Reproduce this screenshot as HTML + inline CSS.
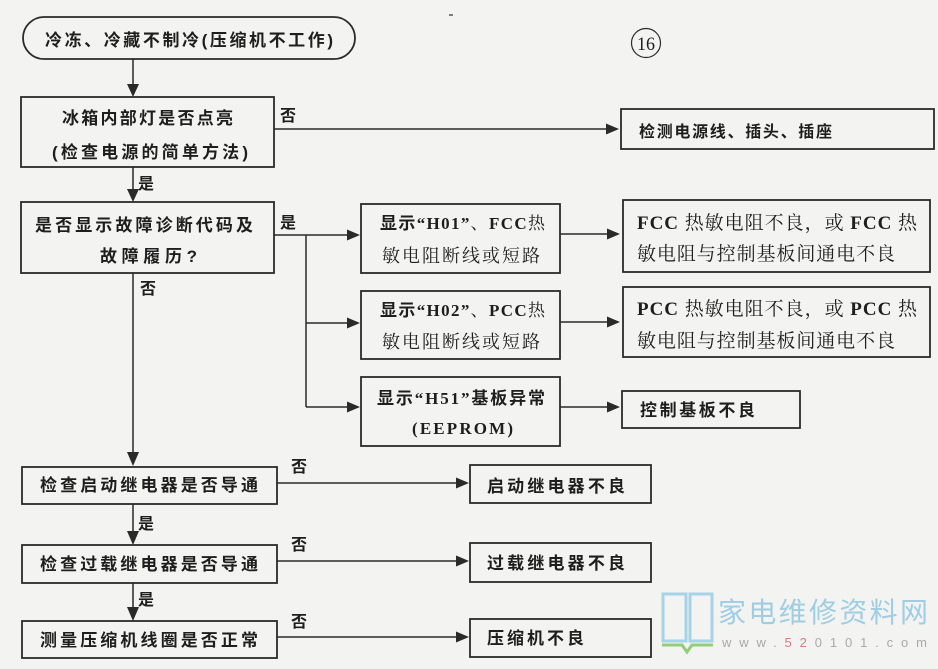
<!DOCTYPE html>
<html><head><meta charset="utf-8"><style>
html,body{margin:0;padding:0;background:#f3f3f1;}
svg{display:block;}
.s{font-family:"Liberation Sans","Noto Sans CJK SC",sans-serif;font-weight:bold;fill:#1e1e1e;}
.r{font-family:"Liberation Serif","Noto Serif CJK SC",serif;fill:#1e1e1e;}
.rb{font-family:"Liberation Serif","Noto Serif CJK SC",serif;font-weight:bold;fill:#1e1e1e;}
.box{fill:none;stroke:#2a2a2a;stroke-width:1.8;}
.ln{stroke:#2a2a2a;stroke-width:1.5;fill:none;}
.ah{fill:#2a2a2a;}
</style></head><body>
<svg width="938" height="669" viewBox="0 0 938 669" xmlns="http://www.w3.org/2000/svg">
<rect width="938" height="669" fill="#f3f3f1"/>
<line x1="449" y1="15" x2="453" y2="15" stroke="#555" stroke-width="1.5"/>
<!-- circled 16 -->
<circle cx="646" cy="43" r="14.5" fill="none" stroke="#2a2a2a" stroke-width="1.2"/>
<text x="646" y="50" text-anchor="middle" class="r" font-size="19" textLength="18" lengthAdjust="spacingAndGlyphs">16</text>

<!-- start pill -->
<rect x="23" y="17" width="332" height="42" rx="21" ry="21" class="box"/>
<text x="45" y="46" class="s" font-size="17" textLength="288" lengthAdjust="spacing">冷冻、冷藏不制冷(压缩机不工作)</text>
<line x1="133" y1="59" x2="133" y2="85" class="ln"/>
<polygon points="127,84 139,84 133,97" class="ah"/>

<!-- box1 -->
<rect x="21" y="97" width="253" height="70" class="box"/>
<text x="62" y="124" class="s" font-size="17" textLength="171" lengthAdjust="spacing">冰箱内部灯是否点亮</text>
<text x="52" y="158" class="s" font-size="17" textLength="196" lengthAdjust="spacing">(检查电源的简单方法)</text>
<text x="280" y="121" class="s" font-size="16">否</text>
<line x1="274" y1="129" x2="608" y2="129" class="ln"/>
<polygon points="606,123.5 606,134.5 619,129" class="ah"/>
<rect x="621" y="109" width="313" height="40" class="box"/>
<text x="639" y="137" class="s" font-size="16" textLength="193" lengthAdjust="spacing">检测电源线、插头、插座</text>

<!-- yes arrow box1->box2 -->
<line x1="133" y1="167" x2="133" y2="190" class="ln"/>
<polygon points="127,189 139,189 133,202" class="ah"/>
<text x="138" y="189" class="s" font-size="16">是</text>

<!-- box2 -->
<rect x="21" y="202" width="253" height="71" class="box"/>
<text x="35" y="231" class="s" font-size="17" textLength="218" lengthAdjust="spacing">是否显示故障诊断代码及</text>
<text x="100" y="262" class="s" font-size="17" textLength="97" lengthAdjust="spacing">故障履历?</text>
<text x="280" y="228" class="s" font-size="16">是</text>

<line x1="274" y1="235" x2="348" y2="235" class="ln"/>
<polygon points="347,229.5 347,240.5 360,235" class="ah"/>
<line x1="306" y1="235" x2="306" y2="407" class="ln"/>
<line x1="306" y1="323" x2="348" y2="323" class="ln"/>
<polygon points="347,317.5 347,328.5 360,323" class="ah"/>
<line x1="306" y1="407" x2="348" y2="407" class="ln"/>
<polygon points="347,401.5 347,412.5 360,407" class="ah"/>

<!-- H01 -->
<rect x="361" y="204" width="199" height="69" class="box"/>
<text x="380" y="229" font-size="17" textLength="165" lengthAdjust="spacing"><tspan class="s">显示</tspan><tspan class="rb">“H01”</tspan><tspan class="r">、</tspan><tspan class="rb">FCC</tspan><tspan class="r">热</tspan></text>
<text x="382" y="262" class="r" font-size="18" textLength="158" lengthAdjust="spacing">敏电阻断线或短路</text>
<line x1="560" y1="234" x2="608" y2="234" class="ln"/>
<polygon points="607,228.5 607,239.5 620,234" class="ah"/>
<rect x="623" y="200" width="307" height="72" class="box"/>
<text x="637" y="229" font-size="19" textLength="280" lengthAdjust="spacing"><tspan class="rb">FCC </tspan><tspan class="r">热敏电阻不良，或 </tspan><tspan class="rb">FCC </tspan><tspan class="r">热</tspan></text>
<text x="637" y="260" class="r" font-size="19" textLength="258" lengthAdjust="spacing">敏电阻与控制基板间通电不良</text>

<!-- H02 -->
<rect x="361" y="291" width="199" height="68" class="box"/>
<text x="380" y="316" font-size="17" textLength="165" lengthAdjust="spacing"><tspan class="s">显示</tspan><tspan class="rb">“H02”</tspan><tspan class="r">、</tspan><tspan class="rb">PCC</tspan><tspan class="r">热</tspan></text>
<text x="382" y="348" class="r" font-size="18" textLength="158" lengthAdjust="spacing">敏电阻断线或短路</text>
<line x1="560" y1="322" x2="608" y2="322" class="ln"/>
<polygon points="607,316.5 607,327.5 620,322" class="ah"/>
<rect x="623" y="287" width="307" height="70" class="box"/>
<text x="637" y="315" font-size="19" textLength="280" lengthAdjust="spacing"><tspan class="rb">PCC </tspan><tspan class="r">热敏电阻不良，或 </tspan><tspan class="rb">PCC </tspan><tspan class="r">热</tspan></text>
<text x="637" y="347" class="r" font-size="19" textLength="258" lengthAdjust="spacing">敏电阻与控制基板间通电不良</text>

<!-- H51 -->
<rect x="361" y="377" width="199" height="69" class="box"/>
<text x="377" y="404" font-size="17" textLength="168" lengthAdjust="spacing"><tspan class="s">显示</tspan><tspan class="rb" font-size="17">“H51”</tspan><tspan class="s">基板异常</tspan></text>
<text x="412" y="434" class="rb" font-size="17" textLength="101" lengthAdjust="spacing">(EEPROM)</text>
<line x1="560" y1="407" x2="608" y2="407" class="ln"/>
<polygon points="607,401.5 607,412.5 620,407" class="ah"/>
<rect x="622" y="391" width="178" height="37" class="box"/>
<text x="640" y="416" class="s" font-size="17" textLength="115" lengthAdjust="spacing">控制基板不良</text>

<!-- main no path -->
<text x="140" y="294" class="s" font-size="16">否</text>
<line x1="133" y1="273" x2="133" y2="453" class="ln"/>
<polygon points="127,452 139,452 133,466" class="ah"/>

<!-- box3 -->
<rect x="22" y="467" width="255" height="37" class="box"/>
<text x="40" y="491" class="s" font-size="17" textLength="218" lengthAdjust="spacing">检查启动继电器是否导通</text>
<text x="291" y="472" class="s" font-size="16">否</text>
<line x1="277" y1="483" x2="457" y2="483" class="ln"/>
<polygon points="456,477.5 456,488.5 469,483" class="ah"/>
<rect x="470" y="465" width="181" height="38" class="box"/>
<text x="487" y="492" class="s" font-size="17" textLength="138" lengthAdjust="spacing">启动继电器不良</text>

<line x1="133" y1="504" x2="133" y2="532" class="ln"/>
<polygon points="127,531 139,531 133,545" class="ah"/>
<text x="138" y="529" class="s" font-size="16">是</text>

<!-- box4 -->
<rect x="22" y="545" width="255" height="38" class="box"/>
<text x="40" y="570" class="s" font-size="17" textLength="218" lengthAdjust="spacing">检查过载继电器是否导通</text>
<text x="291" y="550" class="s" font-size="16">否</text>
<line x1="277" y1="561" x2="457" y2="561" class="ln"/>
<polygon points="456,555.5 456,566.5 469,561" class="ah"/>
<rect x="470" y="543" width="181" height="39" class="box"/>
<text x="487" y="569" class="s" font-size="17" textLength="138" lengthAdjust="spacing">过载继电器不良</text>

<line x1="133" y1="583" x2="133" y2="608" class="ln"/>
<polygon points="127,607 139,607 133,621" class="ah"/>
<text x="138" y="605" class="s" font-size="16">是</text>

<!-- box5 -->
<rect x="22" y="621" width="255" height="37" class="box"/>
<text x="40" y="646" class="s" font-size="17" textLength="218" lengthAdjust="spacing">测量压缩机线圈是否正常</text>
<text x="291" y="627" class="s" font-size="16">否</text>
<line x1="277" y1="637" x2="457" y2="637" class="ln"/>
<polygon points="456,631.5 456,642.5 469,637" class="ah"/>
<rect x="470" y="619" width="181" height="38" class="box"/>
<text x="487" y="644" class="s" font-size="17" textLength="97" lengthAdjust="spacing">压缩机不良</text>

<!-- watermark -->
<rect x="663" y="594" width="23" height="47" fill="none" stroke="#a6d3e8" stroke-width="3"/>
<rect x="690" y="594" width="22" height="47" fill="none" stroke="#a6d3e8" stroke-width="3"/>
<polyline points="662,645 682,645 687,652 692,645 713,645" fill="none" stroke="#93cc7a" stroke-width="3"/>
<text x="718" y="622" font-family="'Noto Sans CJK SC',sans-serif" font-size="28" fill="#9fcde3" textLength="210" lengthAdjust="spacing">家电维修资料网</text>
<text x="722" y="647" font-family="'Liberation Sans',sans-serif" font-size="13" fill="#a9a9a9" textLength="205" lengthAdjust="spacing">www.<tspan fill="#e07882">52</tspan>0101.com</text>
</svg>
</body></html>
